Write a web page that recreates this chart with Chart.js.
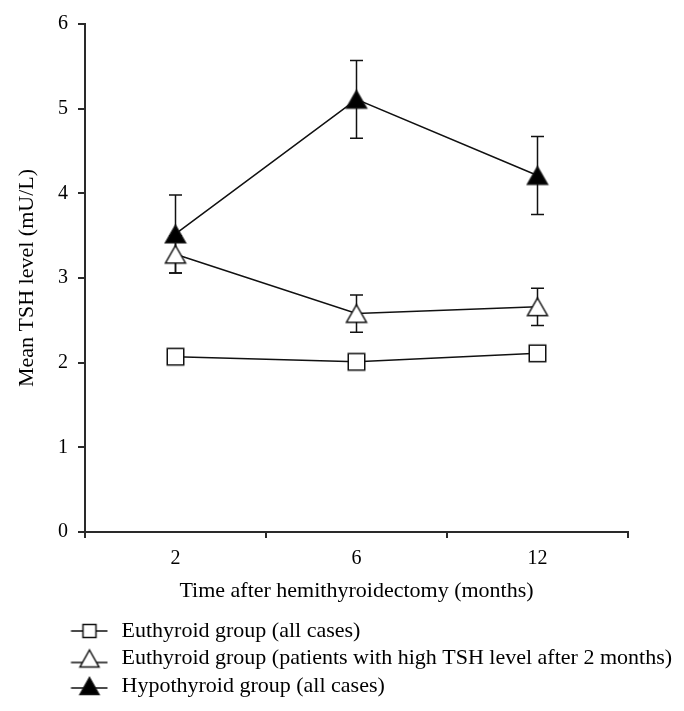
<!DOCTYPE html>
<html>
<head>
<meta charset="utf-8">
<script src="https://cdn.jsdelivr.net/npm/chart.js@4.4.1/dist/chart.umd.min.js"></script>
<style>
  html, body { margin: 0; padding: 0; background: #ffffff; }
  #wrap { width: 684px; height: 711px; }
</style>
</head>
<body>
<div id="wrap"><canvas id="c" width="684" height="711"></canvas></div>
<script>
// ---- data ----
const categories = ['2', '6', '12'];
const seriesNames = [
  'Euthyroid group (all cases)',
  'Euthyroid group (patients with high TSH level after 2 months)',
  'Hypothyroid group (all cases)'
];
const euAllMean = [2.07, 2.01, 2.11];
const euHighMean = [3.28, 2.58, 2.66];
const euHighErr = [0.22, 0.22, 0.22];
const hypoMean = [3.52, 5.11, 4.21];
const hypoErr = [0.46, 0.46, 0.46];
const yMin = 0, yMax = 6, yStep = 1;
const xTitle = 'Time after hemithyroidectomy (months)';
const yTitle = 'Mean TSH level (mU/L)';

// ---- marker images ----
const INK = '#111111';
function drawShape(g, kind, cx, cy, sz) {
  g.beginPath();
  if (kind === 'tri') {
    g.moveTo(cx, cy - sz.h / 2);
    g.lineTo(cx + sz.w / 2, cy + sz.h / 2);
    g.lineTo(cx - sz.w / 2, cy + sz.h / 2);
    g.closePath();
  } else {
    g.rect(cx - sz.w / 2, cy - sz.h / 2, sz.w, sz.h);
  }
  g.fill(); g.stroke();
}
function makeMarker(kind, fill, sz) {
  const c = document.createElement('canvas');
  const W = Math.ceil(sz.w + 4), H = Math.ceil(sz.h + 4);
  c.width = W; c.height = H;
  const g = c.getContext('2d');
  g.lineWidth = 1.5; g.strokeStyle = INK; g.fillStyle = fill; g.lineJoin = 'miter';
  drawShape(g, kind, W / 2, H / 2, sz);
  return c;
}
function makeLegendMarker(kind, fill, sz, lineY) {
  const c = document.createElement('canvas');
  const W = 105, H = 24;
  c.width = W; c.height = H;
  const g = c.getContext('2d');
  const cx = 84, cy = H / 2;
  g.strokeStyle = INK; g.lineWidth = 1.5;
  g.beginPath(); g.moveTo(65.5, cy + lineY); g.lineTo(102, cy + lineY); g.stroke();
  g.fillStyle = fill; g.lineJoin = 'miter';
  drawShape(g, kind, cx, cy, sz);
  return c;
}
const sqMarker = makeMarker('sq', '#ffffff', {w: 16.5, h: 16.5});
const triOpen = makeMarker('tri', '#ffffff', {w: 20, h: 17.5});
const triFill = makeMarker('tri', '#000000', {w: 20, h: 17.5});
const legendMarkers = [
  makeLegendMarker('sq', '#ffffff', {w: 13, h: 13}, 0),
  makeLegendMarker('tri', '#ffffff', {w: 19, h: 17}, 4),
  makeLegendMarker('tri', '#000000', {w: 19, h: 17}, 2)
];

// ---- error bar plugin ----
const errorBars = {
  id: 'errorBars',
  beforeDatasetsDraw(chart) {
    const {ctx, scales: {y}} = chart;
    ctx.save();
    ctx.strokeStyle = INK;
    ctx.lineWidth = 1.5;
    chart.data.datasets.forEach((ds, di) => {
      if (!ds.errors) return;
      const meta = chart.getDatasetMeta(di);
      meta.data.forEach((pt, i) => {
        const v = ds.data[i], e = ds.errors[i];
        const x = pt.x;
        const yt = y.getPixelForValue(v + e);
        const yb = y.getPixelForValue(v - e);
        ctx.beginPath();
        ctx.moveTo(x, yt); ctx.lineTo(x, yb);
        ctx.moveTo(x - 6.5, yt); ctx.lineTo(x + 6.5, yt);
        ctx.moveTo(x - 6.5, yb); ctx.lineTo(x + 6.5, yb);
        ctx.stroke();
      });
    });
    ctx.restore();
  }
};

const FONT = "'Liberation Serif', 'Times New Roman', serif";
const AX = '#2a2a2a';

new Chart(document.getElementById('c'), {
  type: 'line',
  data: {
    labels: categories,
    datasets: [
      { label: seriesNames[0], data: euAllMean, pointStyle: sqMarker },
      { label: seriesNames[1], data: euHighMean, errors: euHighErr, pointStyle: triOpen },
      { label: seriesNames[2], data: hypoMean, errors: hypoErr, pointStyle: triFill }
    ].map(d => Object.assign({
      borderColor: INK, borderWidth: 1.5, tension: 0, fill: false,
      pointRadius: 10, pointHoverRadius: 10, backgroundColor: '#ffffff'
    }, d))
  },
  options: {
    responsive: false,
    devicePixelRatio: 1,
    animation: false,
    events: [],
    layout: { padding: { top: 24, right: 0, bottom: 4, left: 0 } },
    plugins: {
      tooltip: { enabled: false },
      legend: {
        position: 'bottom',
        align: 'start',
        labels: {
          font: { family: FONT, size: 22 },
          color: '#000000',
          usePointStyle: true,
          pointStyleWidth: 105,
          padding: 5.5,
          generateLabels(chart) {
            return chart.data.datasets.map((ds, i) => ({
              text: ds.label,
              pointStyle: legendMarkers[i],
              fillStyle: '#ffffff',
              strokeStyle: INK,
              lineWidth: 0,
              hidden: false,
              datasetIndex: i,
              fontColor: '#000000'
            }));
          }
        }
      }
    },
    scales: {
      x: {
        type: 'category',
        offset: true,
        grid: { display: true, offset: true, drawOnChartArea: false, drawTicks: true, tickLength: 6, color: AX, lineWidth: 2 },
        border: { display: true, color: AX, width: 2 },
        ticks: { font: { family: FONT, size: 20 }, color: '#000000', padding: 9, maxRotation: 0 },
        title: { display: true, text: xTitle, font: { family: FONT, size: 22 }, color: '#000000', padding: { top: 0, bottom: 10 } },
        afterFit(scale) { scale.height = 82.5; }
      },
      y: {
        min: yMin, max: yMax,
        grid: { display: true, drawOnChartArea: false, drawTicks: true, tickLength: 7, color: AX, lineWidth: 2 },
        border: { display: true, color: AX, width: 2 },
        ticks: { stepSize: yStep, font: { family: FONT, size: 20 }, color: '#000000', padding: 10 },
        title: { display: true, text: yTitle, font: { family: FONT, size: 22 }, color: '#000000', padding: { top: 14, bottom: 0 } },
        afterFit(scale) { scale.width = 85; }
      },
      spacer: {
        type: 'linear',
        position: 'right',
        display: true,
        min: 0, max: 1,
        grid: { display: false, drawTicks: false },
        border: { display: false },
        ticks: { display: false },
        title: { display: false },
        afterFit(scale) { scale.width = 56; }
      }
    }
  },
  plugins: [errorBars]
});
</script>
</body>
</html>
